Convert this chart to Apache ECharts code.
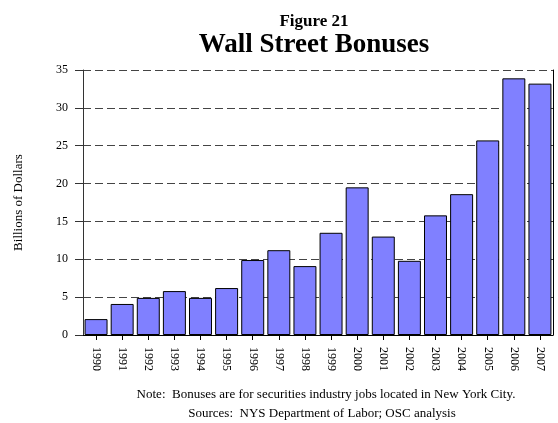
<!DOCTYPE html>
<html>
<head>
<meta charset="utf-8">
<script src="https://cdn.jsdelivr.net/npm/echarts@6/dist/echarts.min.js"></script>
<style>
  html, body { margin: 0; padding: 0; background: #fff; }
  #chart { width: 558px; height: 423px; }
</style>
</head>
<body>
<div id="chart"></div>
<script>
const years = ['1990', '1991', '1992', '1993', '1994', '1995', '1996', '1997', '1998',
  '1999', '2000', '2001', '2002', '2003', '2004', '2005', '2006', '2007']
// billions of dollars
const bonuses = [2.1, 4.1, 4.9, 5.8, 4.9, 6.2, 9.9, 11.2, 9.1,
  13.5, 19.5, 13.0, 9.8, 15.8, 18.6, 25.7, 33.9, 33.2]
const yMin = 0
const yMax = 35
const yStep = 5

const font = 'Liberation Serif'
const chart = echarts.init(document.getElementById('chart'))

chart.setOption({
  animation: false,
  title: [
    { text: 'Figure 21', left: 309, top: 8, textAlign: 'center',
      textStyle: { fontFamily: font, fontSize: 17, fontWeight: 'bold', color: '#000' } },
    { text: 'Wall Street Bonuses', left: 309, top: 27, textAlign: 'center',
      textStyle: { fontFamily: font, fontSize: 27, fontWeight: 'bold', color: '#000' } },
    { text: 'Note:  Bonuses are for securities industry jobs located in New York City.',
      left: 321, top: 383, textAlign: 'center',
      textStyle: { fontFamily: font, fontSize: 13, fontWeight: 'normal', color: '#000' } },
    { text: 'Sources:  NYS Department of Labor; OSC analysis',
      left: 317, top: 402, textAlign: 'center',
      textStyle: { fontFamily: font, fontSize: 13, fontWeight: 'normal', color: '#000' } },
  ],
  grid: { left: 83, right: 5, top: 70, bottom: 88 },
  xAxis: {
    type: 'category',
    data: years,
    axisLine: { lineStyle: { color: '#000', width: 1 } },
    axisTick: { show: true, alignWithLabel: true, length: 5, lineStyle: { color: '#000' } },
    axisLabel: { rotate: -90, margin: 12, fontFamily: font, fontSize: 12, color: '#000', interval: 0 },
  },
  yAxis: [
    {
      type: 'value',
      min: yMin, max: yMax, interval: yStep,
      name: 'Billions of Dollars',
      nameLocation: 'middle',
      nameRotate: 90,
      nameGap: 58,
      nameTextStyle: { fontFamily: font, fontSize: 13, color: '#000' },
      axisLine: { show: true, lineStyle: { color: '#333' } },
      axisTick: { show: true, length: 8, lineStyle: { color: '#333' } },
      axisLabel: { margin: 15, fontFamily: font, fontSize: 12, color: '#000' },
      splitLine: { show: true, lineStyle: { color: '#444', type: [8, 4], width: 1 } },
    },
    {
      type: 'value',
      position: 'right',
      min: yMin, max: yMax, interval: yStep,
      axisLine: { show: true, lineStyle: { color: '#000' } },
      axisTick: { show: false },
      axisLabel: { show: false },
      splitLine: { show: false },
    },
  ],
  series: [{
    type: 'bar',
    data: bonuses,
    barCategoryGap: '12%',
    itemStyle: { color: '#8080ff', borderColor: '#000', borderWidth: 1 },
  }],
})
</script>
</body>
</html>
